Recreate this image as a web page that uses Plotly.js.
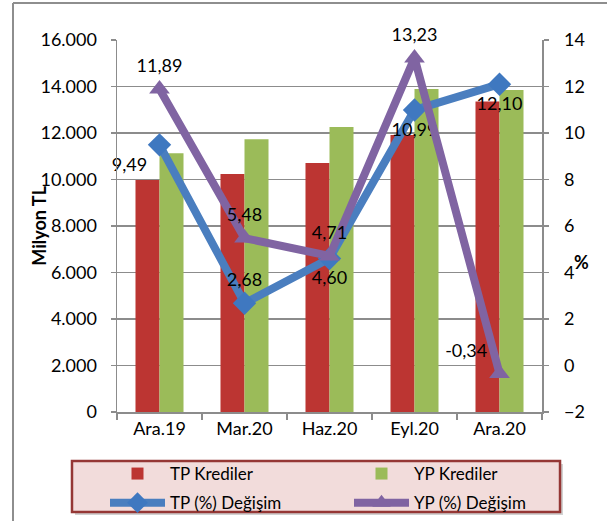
<!DOCTYPE html>
<html>
<head>
<meta charset="utf-8">
<script src="https://cdn.plot.ly/plotly-3.0.1.min.js"></script>
<style>
html,body{margin:0;padding:0;background:#fff;}
#chart{width:607px;height:521px;}
</style>
</head>
<body>
<div id="chart"></div>
<script>
var categories = ['Ara.19', 'Mar.20', 'Haz.20', 'Eyl.20', 'Ara.20'];
var tpKrediler = [9980, 10240, 10710, 11910, 13350];
var ypKrediler = [11130, 11730, 12260, 13890, 13850];
var tpDegisim = [9.49, 2.68, 4.60, 10.99, 12.10];
var ypDegisim = [11.89, 5.48, 4.71, 13.23, -0.34];
var leftTicks = [0, 2000, 4000, 6000, 8000, 10000, 12000, 14000, 16000];
var rightTicks = [-2, 0, 2, 4, 6, 8, 10, 12, 14];

var font = 'Lato, "Open Sans", "Liberation Sans", sans-serif';
var grid = '#8c8c8c';

var traces = [
  {type: 'bar', name: 'TP Krediler', x: categories, y: tpKrediler,
   legend: 'legend', legendgroup: 'a',
   marker: {color: '#BC3532'}, hoverinfo: 'skip'},
  {type: 'bar', name: 'YP Krediler', x: categories, y: ypKrediler,
   legend: 'legend2', legendgroup: 'b',
   marker: {color: '#9BBB59'}, hoverinfo: 'skip'},
  {type: 'scatter', mode: 'lines+markers+text', name: 'TP (%) Değişim',
   x: categories, y: tpDegisim, yaxis: 'y2', cliponaxis: false,
   legend: 'legend', legendgroup: 'c',
   line: {color: '#4A7EBF', width: 8},
   marker: {symbol: 'diamond', size: 18, color: '#3F78C0'},
   texttemplate: '%{y:.2f}',
   textposition: ['bottom left', 'top center', 'bottom center', 'bottom center', 'bottom center'],
   textfont: {family: font, size: 18, color: '#000'}},
  {type: 'scatter', mode: 'lines+markers+text', name: 'YP (%) Değişim',
   x: categories, y: ypDegisim, yaxis: 'y2', cliponaxis: false,
   legend: 'legend2', legendgroup: 'd',
   line: {color: '#8064A2', width: 8},
   marker: {symbol: 'triangle-up', size: 18, color: '#8064A2'},
   texttemplate: '%{y:.2f}',
   textposition: ['top center', 'top center', 'top center', 'top center', 'top left'],
   textfont: {family: font, size: 18, color: '#000'}}
];

function legendAt(px) {
  return {
    orientation: 'v', xref: 'container', yref: 'container',
    x: px / 607, xanchor: 'left', y: 1 - 456 / 521, yanchor: 'top',
    bgcolor: 'rgba(0,0,0,0)', borderwidth: 0,
    font: {family: font, size: 17, color: '#000'},
    itemwidth: 55, traceorder: 'grouped', tracegroupgap: 4
  };
}

var layout = {
  width: 607, height: 521,
  margin: {l: 117, r: 65, t: 40, b: 109, autoexpand: false},
  paper_bgcolor: '#fff', plot_bgcolor: '#fff',
  separators: ',.',
  font: {family: font, size: 16, color: '#000'},
  barmode: 'group', bargap: 0.435, bargroupgap: 0,
  showlegend: true,
  legend: legendAt(105),
  legend2: legendAt(349),
  xaxis: {
    type: 'category', showline: true, linecolor: grid, linewidth: 1.5,
    ticks: 'outside', tickson: 'boundaries', ticklen: 6, tickcolor: grid, tickwidth: 1.5,
    showgrid: false, tickfont: {family: font, size: 18}
  },
  yaxis: {
    range: [0, 16000], tickvals: leftTicks, tickformat: ',.0f',
    showline: true, linecolor: grid, linewidth: 1.5,
    ticks: 'outside', ticklen: 5, tickcolor: grid, tickwidth: 1.5,
    showgrid: true, gridcolor: grid, gridwidth: 1.3, zeroline: false,
    ticklabelstandoff: 10, tickfont: {family: font, size: 18}
  },
  yaxis2: {
    overlaying: 'y', side: 'right', range: [-2, 14], tickvals: rightTicks,
    showline: true, linecolor: grid, linewidth: 1.5,
    ticks: 'outside', ticklen: 5, tickcolor: grid, tickwidth: 1.5,
    showgrid: false, zeroline: false,
    ticklabelstandoff: 12, tickfont: {family: font, size: 18}
  },
  annotations: [
    {text: '<b>Milyon TL</b>', xref: 'paper', yref: 'paper', x: -0.215, y: 0.5,
     textangle: -90, showarrow: false, font: {family: font, size: 18, color: '#000'}},
    {text: '<b>%</b>', xref: 'paper', yref: 'paper', x: 1.115, y: 0.403,
     showarrow: false, font: {family: font, size: 18, color: '#000'}}
  ],
  shapes: [
    {type: 'line', xref: 'paper', yref: 'paper', x0: -0.2447, x1: -0.2447, y0: 1.0995, y1: -0.3,
     line: {color: '#8e8e8e', width: 2}},
    {type: 'line', xref: 'paper', yref: 'paper', x0: -0.2447, x1: 1.2, y0: 1.0995, y1: 1.0995,
     line: {color: '#8e8e8e', width: 2}},
    {type: 'rect', xref: 'paper', yref: 'paper', layer: 'above',
     x0: -0.0988, x1: 1.0494, y0: -0.2769, y1: -0.1398,
     fillcolor: 'rgba(0,0,0,0.18)', line: {width: 0}},
    {type: 'rect', xref: 'paper', yref: 'paper', layer: 'above',
     x0: -0.1059, x1: 1.0424, y0: -0.2688, y1: -0.1317,
     fillcolor: '#F2DCDB', line: {color: '#953735', width: 2.5}}
  ]
};

Plotly.newPlot('chart', traces, layout, {displayModeBar: false, staticPlot: true});
</script>
</body>
</html>
